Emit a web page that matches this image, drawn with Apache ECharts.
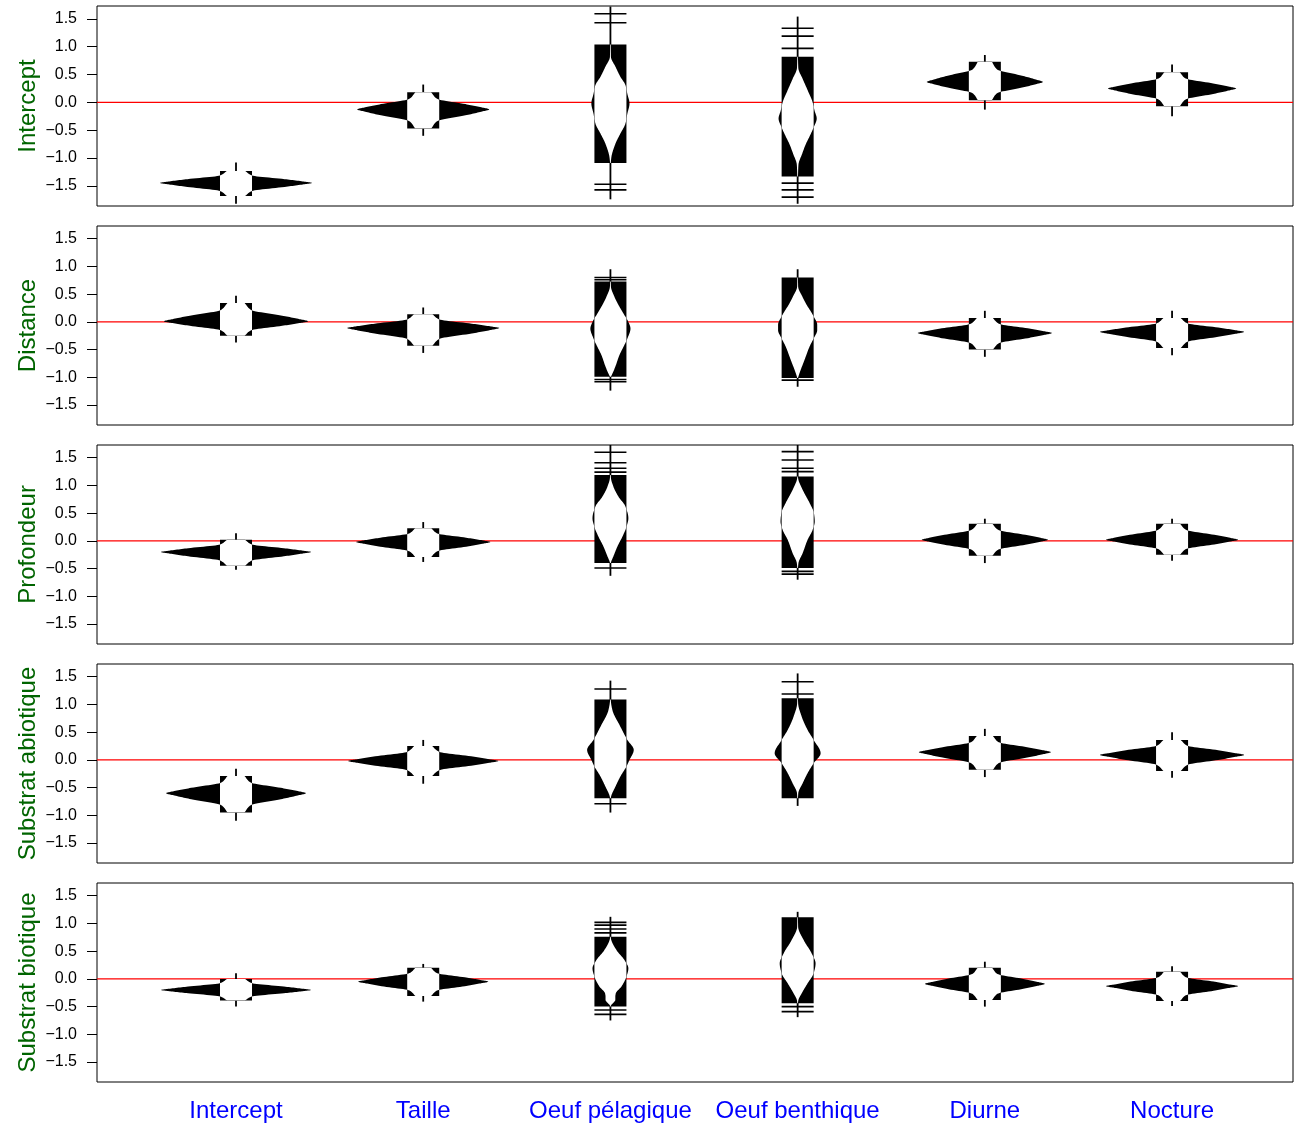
<!DOCTYPE html>
<html>
<head>
<meta charset="utf-8">
<script src="https://cdn.jsdelivr.net/npm/echarts@6/dist/echarts.min.js"></script>
<style>
  html, body { margin: 0; padding: 0; background: #fff; }
  #chart { width: 1294px; height: 1123px; }
</style>
</head>
<body>
<div id="chart"></div>
<script>
// Category (column) names and panel (row) titles
const categories = ['Intercept', 'Taille', 'Oeuf pélagique', 'Oeuf benthique', 'Diurne', 'Nocture'];
const panelTitles = ['Intercept', 'Distance', 'Profondeur', 'Substrat abiotique', 'Substrat biotique'];
const yTicks = [-1.5, -1, -0.5, 0, 0.5, 1, 1.5];

// For every bean: band = [lo, hi] range covered by the dense sample lines,
// tails = [lo, hi] extent of the density outline, lines = isolated sample lines,
// profiles = density knots [value, density] from top to bottom of the band.

// Row 1: Intercept
const interceptBands = [[-1.68, -1.23], [-0.47, 0.18], [-1.09, 1.04], [-1.33, 0.82], [0.04, 0.73], [-0.07, 0.54]];
const interceptTails = [[-1.82, -1.08], [-0.6, 0.32], [-1.74, 1.72], [-1.82, 1.54], [-0.13, 0.85], [-0.25, 0.68]];
const interceptLines = [[], [], [1.59, 1.43, -1.47, -1.57], [1.33, 1.19, 0.97, -1.45, -1.57, -1.7], [], []];
const interceptProfiles = [
  [[-1.23, 0.56], [-1.312, 0.98], [-1.378, 2.98], [-1.419, 4.10], [-1.445, 4.66], [-1.473, 4.10], [-1.518, 2.98], [-1.591, 0.98], [-1.68, 0.56]],
  [[0.18, 0.49], [0.064, 0.85], [-0.031, 2.59], [-0.089, 3.56], [-0.126, 4.05], [-0.167, 3.56], [-0.233, 2.59], [-0.339, 0.85], [-0.47, 0.49]],
  [[1.04, 0.02], [0.82, 0.03], [0.64, 0.31], [0.46, 0.61], [0.31, 0.92], [0.15, 1.04], [-0.02, 1.17], [-0.2, 1.04], [-0.38, 0.92], [-0.56, 0.61], [-0.74, 0.31], [-0.98, 0.06], [-1.09, 0.02]],
  [[0.82, 0.02], [0.62, 0.04], [0.42, 0.31], [0.22, 0.61], [0.0, 0.92], [-0.15, 1.04], [-0.29, 1.17], [-0.45, 0.98], [-0.6, 0.75], [-0.75, 0.5], [-0.92, 0.28], [-1.12, 0.05], [-1.33, 0.02]],
  [[0.73, 0.43], [0.592, 0.75], [0.479, 2.28], [0.41, 3.13], [0.366, 3.56], [0.327, 3.13], [0.265, 2.28], [0.164, 0.75], [0.04, 0.43]],
  [[0.54, 0.47], [0.43, 0.83], [0.34, 2.52], [0.285, 3.46], [0.25, 3.93], [0.212, 3.46], [0.151, 2.52], [0.052, 0.83], [-0.07, 0.47]]
];

// Row 2: Distance
const distanceBands = [[-0.25, 0.34], [-0.43, 0.14], [-0.99, 0.73], [-1.01, 0.8], [-0.5, 0.07], [-0.47, 0.07]];
const distanceTails = [[-0.37, 0.47], [-0.56, 0.26], [-1.24, 0.95], [-1.17, 0.95], [-0.63, 0.2], [-0.6, 0.2]];
const distanceLines = [[], [], [0.8, 0.76, -1.04, -1.08], [-1.05], [], []];
const distanceProfiles = [
  [[0.34, 0.53], [0.215, 0.93], [0.112, 2.83], [0.05, 3.89], [0.01, 4.42], [-0.021, 3.89], [-0.071, 2.83], [-0.151, 0.93], [-0.25, 0.53]],
  [[0.14, 0.56], [0.045, 0.98], [-0.032, 2.98], [-0.08, 4.10], [-0.11, 4.66], [-0.148, 4.10], [-0.209, 2.98], [-0.308, 0.98], [-0.43, 0.56]],
  [[0.73, 0.02], [0.64, 0.03], [0.45, 0.25], [0.34, 0.43], [0.15, 0.8], [0.0, 1.1], [-0.12, 1.23], [-0.3, 1.04], [-0.45, 0.8], [-0.6, 0.55], [-0.8, 0.31], [-0.97, 0.06], [-0.99, 0.02]],
  [[0.8, 0.02], [0.64, 0.03], [0.45, 0.3], [0.34, 0.49], [0.1, 0.98], [-0.05, 1.2], [-0.15, 1.2], [-0.3, 0.98], [-0.44, 0.74], [-0.68, 0.43], [-0.92, 0.12], [-1.01, 0.02]],
  [[0.07, 0.49], [-0.033, 0.86], [-0.116, 2.63], [-0.168, 3.62], [-0.2, 4.11], [-0.236, 3.62], [-0.293, 2.63], [-0.386, 0.86], [-0.5, 0.49]],
  [[0.07, 0.53], [-0.025, 0.93], [-0.102, 2.83], [-0.15, 3.89], [-0.18, 4.42], [-0.215, 3.89], [-0.27, 2.83], [-0.36, 0.93], [-0.47, 0.53]]
];

// Row 3: Profondeur
const profondeurBands = [[-0.45, 0.02], [-0.29, 0.23], [-0.4, 1.19], [-0.49, 1.16], [-0.27, 0.31], [-0.25, 0.31]];
const profondeurTails = [[-0.52, 0.14], [-0.38, 0.34], [-0.63, 1.73], [-0.7, 1.73], [-0.4, 0.4], [-0.36, 0.4]];
const profondeurLines = [[], [], [1.6, 1.41, 1.31, 1.24, -0.49], [1.61, 1.46, 1.31, 1.25, -0.55, -0.6], [], []];
const profondeurProfiles = [
  [[0.02, 0.55], [-0.064, 0.97], [-0.132, 2.94], [-0.174, 4.05], [-0.2, 4.6], [-0.23, 4.05], [-0.278, 2.94], [-0.355, 0.97], [-0.45, 0.55]],
  [[0.23, 0.49], [0.135, 0.86], [0.058, 2.63], [0.01, 3.62], [-0.02, 4.11], [-0.052, 3.62], [-0.104, 2.63], [-0.187, 0.86], [-0.29, 0.49]],
  [[1.19, 0.02], [1.14, 0.03], [0.98, 0.18], [0.8, 0.49], [0.62, 0.92], [0.41, 1.1], [0.25, 0.98], [0.08, 0.74], [-0.1, 0.43], [-0.28, 0.18], [-0.38, 0.04], [-0.4, 0.02]],
  [[1.16, 0.02], [1.13, 0.03], [0.92, 0.31], [0.68, 0.74], [0.5, 1.0], [0.35, 1.05], [0.2, 0.92], [0.02, 0.61], [-0.22, 0.31], [-0.4, 0.05], [-0.49, 0.02]],
  [[0.31, 0.46], [0.2, 0.81], [0.11, 2.48], [0.055, 3.41], [0.02, 3.87], [-0.015, 3.41], [-0.07, 2.48], [-0.16, 0.81], [-0.27, 0.46]],
  [[0.31, 0.49], [0.2, 0.85], [0.11, 2.59], [0.055, 3.56], [0.02, 4.05], [-0.012, 3.56], [-0.064, 2.59], [-0.147, 0.85], [-0.25, 0.49]]
];

// Row 4: Substrat abiotique
const abiotiqueBands = [[-0.95, -0.29], [-0.29, 0.25], [-0.69, 1.09], [-0.69, 1.11], [-0.18, 0.43], [-0.2, 0.36]];
const abiotiqueTails = [[-1.1, -0.16], [-0.43, 0.36], [-0.95, 1.43], [-0.83, 1.56], [-0.31, 0.56], [-0.32, 0.5]];
const abiotiqueLines = [[], [], [1.28, -0.79], [1.41, 1.19], [], []];
const abiotiqueProfiles = [
  [[-0.29, 0.52], [-0.408, 0.9], [-0.504, 2.75], [-0.563, 3.78], [-0.6, 4.29], [-0.642, 3.78], [-0.709, 2.75], [-0.817, 0.9], [-0.95, 0.52]],
  [[0.25, 0.55], [0.147, 0.97], [0.064, 2.94], [0.012, 4.05], [-0.02, 4.6], [-0.052, 4.05], [-0.104, 2.94], [-0.187, 0.97], [-0.29, 0.55]],
  [[1.09, 0.02], [1.05, 0.03], [0.9, 0.12], [0.6, 0.61], [0.36, 1.04], [0.18, 1.43], [0.0, 1.17], [-0.12, 0.98], [-0.3, 0.61], [-0.48, 0.31], [-0.66, 0.04], [-0.69, 0.02]],
  [[1.11, 0.02], [1.02, 0.03], [0.78, 0.25], [0.54, 0.61], [0.36, 0.98], [0.12, 1.41], [-0.06, 0.98], [-0.24, 0.61], [-0.42, 0.31], [-0.6, 0.04], [-0.69, 0.02]],
  [[0.43, 0.49], [0.32, 0.85], [0.23, 2.59], [0.175, 3.56], [0.14, 4.05], [0.102, 3.56], [0.041, 2.59], [-0.058, 0.85], [-0.18, 0.49]],
  [[0.36, 0.53], [0.257, 0.93], [0.174, 2.83], [0.122, 3.89], [0.09, 4.42], [0.055, 3.89], [0.0, 2.83], [-0.09, 0.93], [-0.2, 0.53]]
];

// Row 5: Substrat biotique
const biotiqueBands = [[-0.39, 0.0], [-0.31, 0.2], [-0.5, 0.76], [-0.44, 1.11], [-0.38, 0.2], [-0.4, 0.13]];
const biotiqueTails = [[-0.5, 0.1], [-0.41, 0.27], [-0.75, 1.12], [-0.69, 1.21], [-0.5, 0.31], [-0.49, 0.23]];
const biotiqueLines = [[], [], [1.02, 0.97, 0.9, 0.83, -0.56, -0.64], [-0.5, -0.59], [], []];
const biotiqueProfiles = [
  [[0.0, 0.55], [-0.076, 0.97], [-0.138, 2.94], [-0.176, 4.05], [-0.2, 4.6], [-0.223, 4.05], [-0.259, 2.94], [-0.318, 0.97], [-0.39, 0.55]],
  [[0.2, 0.48], [0.105, 0.84], [0.028, 2.55], [-0.02, 3.51], [-0.05, 3.99], [-0.081, 3.51], [-0.131, 2.55], [-0.211, 0.84], [-0.31, 0.48]],
  [[0.76, 0.02], [0.73, 0.03], [0.52, 0.37], [0.34, 0.86], [0.19, 1.1], [0.04, 0.98], [-0.14, 0.67], [-0.26, 0.33], [-0.32, 0.3], [-0.38, 0.3], [-0.44, 0.15], [-0.48, 0.03], [-0.5, 0.02]],
  [[1.11, 0.02], [0.94, 0.03], [0.7, 0.37], [0.46, 0.86], [0.28, 1.1], [0.1, 0.98], [-0.08, 0.61], [-0.26, 0.25], [-0.39, 0.04], [-0.44, 0.02]],
  [[0.2, 0.44], [0.09, 0.77], [0.0, 2.36], [-0.055, 3.24], [-0.09, 3.68], [-0.125, 3.24], [-0.18, 2.36], [-0.27, 0.77], [-0.38, 0.44]],
  [[0.13, 0.49], [0.031, 0.84], [-0.049, 2.55], [-0.099, 3.51], [-0.13, 4.05], [-0.162, 3.51], [-0.214, 2.55], [-0.297, 0.84], [-0.4, 0.49]]
];

const panels = [
  { bands: interceptBands, tails: interceptTails, lines: interceptLines, profiles: interceptProfiles },
  { bands: distanceBands, tails: distanceTails, lines: distanceLines, profiles: distanceProfiles },
  { bands: profondeurBands, tails: profondeurTails, lines: profondeurLines, profiles: profondeurProfiles },
  { bands: abiotiqueBands, tails: abiotiqueTails, lines: abiotiqueLines, profiles: abiotiqueProfiles },
  { bands: biotiqueBands, tails: biotiqueTails, lines: biotiqueLines, profiles: biotiqueProfiles }
];

// Layout constants
const X_MIN = 0.2575, X_MAX = 6.646;
const Y_MIN = -1.86, Y_MAX = 1.73;
const LINE_HALF = 0.0855;   // half length of a sample line, in x-axis units
const DENS_TO_X = 0.0871;   // x-axis units per density unit
const GRID_TOPS = [6, 226, 445, 664, 883];
const GRID_HEIGHTS = [200, 199, 199, 199, 199];
const FONT = '"Liberation Sans", Arial, Helvetica, sans-serif';

// Smooth monotone (PCHIP) outline through the density knots
function sampleProfile(k) {
  const n = k.length, h = [], m = [], t = new Array(n);
  for (let j = 0; j < n - 1; j++) {
    h[j] = k[j + 1][0] - k[j][0];
    m[j] = (k[j + 1][1] - k[j][1]) / h[j];
  }
  t[0] = m[0]; t[n - 1] = m[n - 2];
  for (let j = 1; j < n - 1; j++) {
    if (m[j - 1] * m[j] <= 0) t[j] = 0;
    else {
      const w1 = 2 * h[j] + h[j - 1], w2 = h[j] + 2 * h[j - 1];
      t[j] = (w1 + w2) / (w1 / m[j - 1] + w2 / m[j]);
    }
  }
  const out = [], steps = 12;
  for (let j = 0; j < n - 1; j++) {
    for (let s = 0; s < steps; s++) {
      const u = s / steps, u2 = u * u, u3 = u2 * u;
      const d = (2 * u3 - 3 * u2 + 1) * k[j][1] + (u3 - 2 * u2 + u) * h[j] * t[j]
              + (-2 * u3 + 3 * u2) * k[j + 1][1] + (u3 - u2) * h[j] * t[j + 1];
      out.push([k[j][0] + u * h[j], Math.max(d, 0)]);
    }
  }
  out.push(k[n - 1]);
  return out;
}

function makeRenderer(panel) {
  return function (params, api) {
    const i = params.dataIndex;
    const x = api.value(0);
    const c = api.coord([x, 0])[0];
    const bh = api.coord([x + LINE_HALF, 0])[0] - c;
    const ds = api.coord([x + DENS_TO_X, 0])[0] - c;
    const Y = v => api.coord([x, v])[1];
    const band = panel.bands[i], tail = panel.tails[i];
    const outline = sampleProfile(panel.profiles[i]);

    const outerR = outline.map(([v, d]) => [c + d * ds, Y(v)]);
    const outerL = outline.slice().reverse().map(([v, d]) => [c - d * ds, Y(v)]);
    const innerR = outline.map(([v, d]) => [c + Math.min(d * ds, bh), Y(v)]);
    const innerL = outline.slice().reverse().map(([v, d]) => [c - Math.min(d * ds, bh), Y(v)]);

    const children = [];
    // thin vertical stem over the full density extent
    children.push({ type: 'line', shape: { x1: c, y1: Y(tail[0]), x2: c, y2: Y(tail[1]) },
                    style: { stroke: '#000', lineWidth: 1.8 } });
    // isolated sample lines
    panel.lines[i].forEach(v => children.push({
      type: 'line', shape: { x1: c - bh, y1: Y(v), x2: c + bh, y2: Y(v) },
      style: { stroke: '#000', lineWidth: 1.6 }
    }));
    // density outline (black where it sticks out of the line block)
    children.push({ type: 'polygon', shape: { points: outerR.concat(outerL) }, style: { fill: '#000' } });
    // block of densely packed sample lines
    children.push({ type: 'rect', shape: { x: c - bh, y: Y(band[1]), width: 2 * bh, height: Y(band[0]) - Y(band[1]) },
                    style: { fill: '#000' } });
    // density shape knocked out in white inside the line block
    children.push({ type: 'polygon', shape: { points: innerR.concat(innerL) }, style: { fill: '#fff' } });
    return { type: 'group', silent: true, children };
  };
}

const grid = [], xAxis = [], yAxis = [], series = [];
panels.forEach((panel, k) => {
  const last = k === panels.length - 1;
  grid.push({ left: 97, right: 1, top: GRID_TOPS[k], height: GRID_HEIGHTS[k],
              show: true, borderColor: '#000', borderWidth: 1, backgroundColor: 'transparent' });
  xAxis.push({
    type: 'value', gridIndex: k, min: X_MIN, max: X_MAX, show: last,
    axisLine: { show: false }, splitLine: { show: false },
    axisTick: { show: last, customValues: [1, 2, 3, 4, 5, 6], length: 10, lineStyle: { color: '#000', width: 1 } },
    axisLabel: { show: last, customValues: [1, 2, 3, 4, 5, 6], margin: 17,
                 formatter: v => categories[Math.round(v) - 1],
                 color: '#0000ff', fontSize: 24, fontFamily: FONT }
  });
  yAxis.push({
    type: 'value', gridIndex: k, min: Y_MIN, max: Y_MAX,
    axisLine: { show: false }, splitLine: { show: false },
    axisTick: { show: true, customValues: yTicks, length: 10, lineStyle: { color: '#000', width: 1 } },
    axisLabel: { customValues: yTicks, margin: 20, fontSize: 16, color: '#000', fontFamily: FONT,
                 formatter: v => (v < 0 ? '\u2212' : '') + Math.abs(v).toFixed(1) },
    name: panelTitles[k], nameLocation: 'middle', nameRotate: 90, nameGap: 57, nameMoveOverlap: false,
    nameTextStyle: { color: '#006400', fontSize: 24, fontFamily: FONT }
  });
  series.push({
    type: 'line', xAxisIndex: k, yAxisIndex: k, data: [[X_MIN, 0], [X_MAX, 0]],
    symbol: 'none', silent: true, z: 1, lineStyle: { color: '#ff0000', width: 1.3 }
  });
  series.push({
    type: 'custom', xAxisIndex: k, yAxisIndex: k, z: 2, silent: true, clip: false,
    data: categories.map((_, i) => [i + 1, 0]), encode: { x: 0, y: 1 },
    renderItem: makeRenderer(panel)
  });
});

const chart = echarts.init(document.getElementById('chart'), null, { renderer: 'canvas' });
chart.setOption({ animation: false, backgroundColor: '#fff', grid, xAxis, yAxis, series });
</script>
</body>
</html>
